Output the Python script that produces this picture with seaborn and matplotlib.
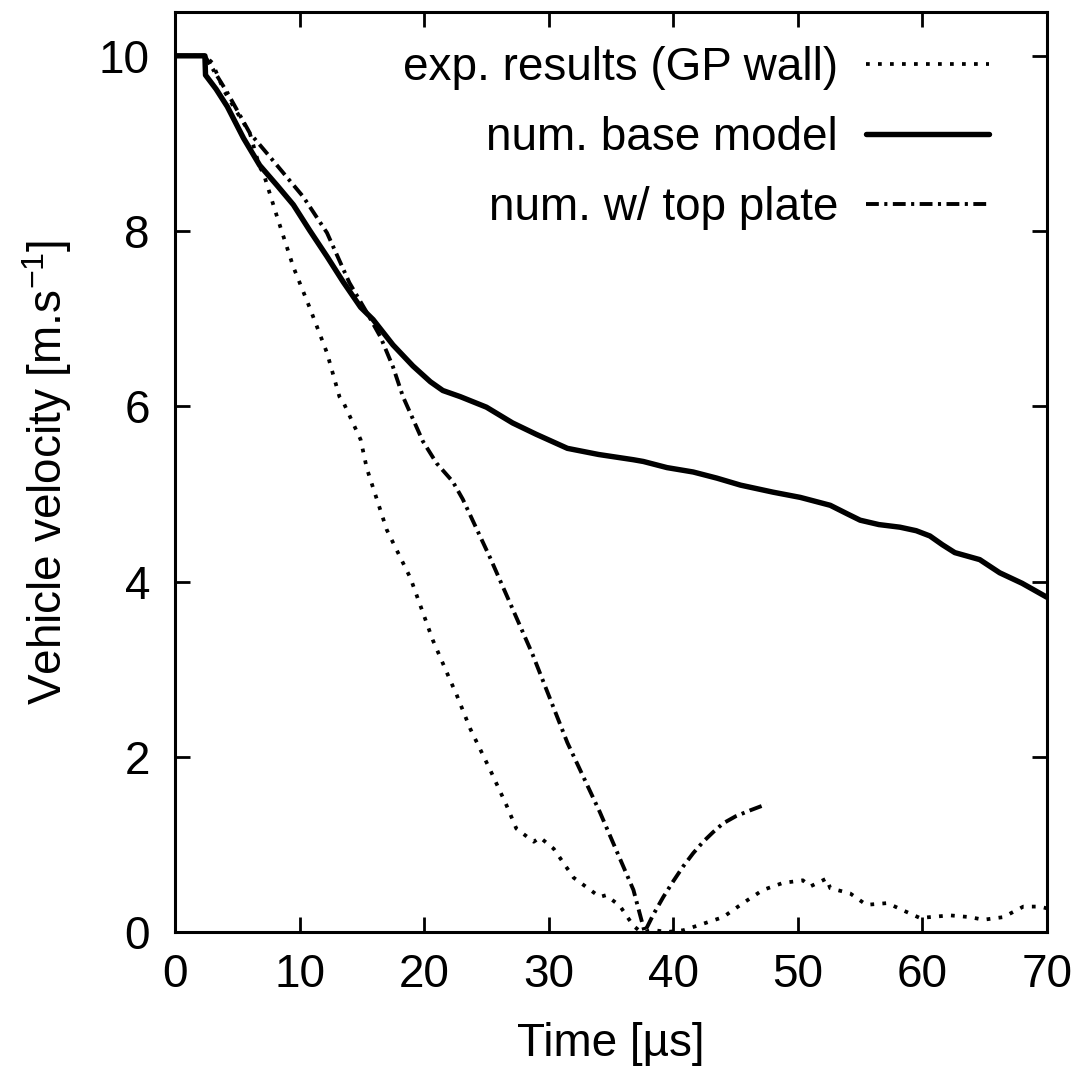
import numpy as np
import pandas as pd
import matplotlib
matplotlib.use("Agg")
import matplotlib.pyplot as plt
import seaborn as sns

# ---- data ----
exp_t = [0, 2.4, 3.0, 3.9, 5.0, 6.0, 6.8, 7.1, 8.2, 9.5, 10.8, 12.2, 13.2, 13.5, 14.9, 15.4,
         17.0, 18.9, 20.7, 22.1, 22.6, 23.7, 25.3, 26.6, 27.4, 28.8, 29.3, 30.4, 32.0, 34.1,
         34.6, 35.7, 36.8, 37.4, 38.5, 39.5, 40.8, 42.1, 44.0, 45.6, 47.2, 48.8, 50.4, 51.0,
         52.3, 52.6, 54.2, 55.5, 57.2, 58.4, 59.8, 62.2, 63.8, 64.9, 66.5, 68.1, 69.4, 70.0]
exp_v = [10.0, 10.0, 9.92, 9.61, 9.35, 9.12, 8.73, 8.66, 8.16, 7.59, 7.13, 6.61, 6.11, 6.05, 5.62, 5.29,
         4.59, 4.04, 3.33, 2.87, 2.71, 2.32, 1.85, 1.45, 1.18, 1.03, 1.08, 0.95, 0.62, 0.40,
         0.42, 0.30, 0.07, 0.0, 0.02, 0.0, 0.02, 0.08, 0.17, 0.33, 0.48, 0.56, 0.59, 0.52,
         0.61, 0.50, 0.44, 0.31, 0.33, 0.25, 0.16, 0.19, 0.17, 0.14, 0.17, 0.29, 0.29, 0.27]

base_t = [0, 2.4, 2.45, 3.3, 4.2, 5.5, 6.8, 8.2, 9.5, 10.8, 12.2, 13.5, 14.9, 15.9, 17.5, 19.1,
          20.5, 21.5, 22.9, 25.0, 27.1, 29.0, 31.5, 34.0, 36.8, 37.6, 39.5, 41.6, 43.5, 45.4,
          48.0, 50.2, 52.6, 54.0, 55.0, 56.5, 58.2, 59.5, 60.6, 61.6, 62.6, 64.6, 66.2, 68.0, 70.0]
base_v = [10.0, 10.0, 9.78, 9.62, 9.42, 9.06, 8.75, 8.52, 8.30, 8.01, 7.71, 7.42, 7.13, 6.99, 6.70, 6.46,
          6.28, 6.18, 6.11, 5.99, 5.81, 5.68, 5.52, 5.45, 5.39, 5.37, 5.30, 5.25, 5.18, 5.10,
          5.02, 4.96, 4.87, 4.77, 4.70, 4.65, 4.62, 4.58, 4.52, 4.42, 4.33, 4.25, 4.10, 3.98, 3.82]

top_t = [0, 2.4, 2.6, 4.2, 6.0, 7.6, 10.3, 12.2, 14.0, 15.4, 16.5, 17.5, 18.3, 19.9, 21.0, 22.3,
         23.1, 25.3, 28.7, 31.5, 34.1, 36.8, 37.7, 38.4, 39.2, 40.0, 40.8, 41.6, 42.4, 43.2, 44.0,
         45.0, 46.2, 47.5]
top_v = [10.0, 10.0, 9.95, 9.58, 9.12, 8.85, 8.39, 7.98, 7.41, 7.07, 6.79, 6.45, 6.11, 5.60, 5.35, 5.14,
         4.94, 4.27, 3.17, 2.16, 1.37, 0.48, 0.0, 0.20, 0.40, 0.58, 0.75, 0.90, 1.03, 1.14, 1.24,
         1.32, 1.39, 1.46]

labels = ["exp. results (GP wall)", "num. base model", "num. w/ top plate"]
x_ticks = [0, 10, 20, 30, 40, 50, 60, 70]
y_ticks = [0, 2, 4, 6, 8, 10]

sns.set_theme(style="ticks")
plt.rcParams["font.family"] = ["Liberation Sans", "DejaVu Sans"]
plt.rcParams["mathtext.fontset"] = "custom"
plt.rcParams["mathtext.rm"] = "Liberation Sans"
plt.rcParams["mathtext.it"] = "Liberation Sans"
plt.rcParams["text.color"] = "black"
plt.rcParams["axes.labelcolor"] = "black"
plt.rcParams["xtick.color"] = "black"
plt.rcParams["ytick.color"] = "black"

fig = plt.figure(figsize=(10.81, 10.82), dpi=100)
ax = fig.add_axes([175 / 1081, 1 - 932 / 1082, (1047 - 175) / 1081, (932 - 12) / 1082])

df_exp = pd.DataFrame({"t": exp_t, "v": exp_v})
df_base = pd.DataFrame({"t": base_t, "v": base_v})
df_top = pd.DataFrame({"t": top_t, "v": top_v})

sns.lineplot(data=df_exp, x="t", y="v", ax=ax, color="black", lw=2.7,
             dashes=(1.0, 2.2), estimator=None, sort=False, label=labels[0])
sns.lineplot(data=df_base, x="t", y="v", ax=ax, color="black", lw=3.9,
             estimator=None, sort=False, label=labels[1])
sns.lineplot(data=df_top, x="t", y="v", ax=ax, color="black", lw=2.8,
             dashes=(3.3, 1.4, 0.8, 1.4), estimator=None, sort=False, label=labels[2])

ax.set_xlim(0, 70)
ax.set_ylim(0, 10.5)
ax.set_xticks(x_ticks)
ax.set_yticks(y_ticks)
ax.tick_params(direction="in", top=True, right=True, length=11, width=2,
               labelsize=33, colors="black")
ax.tick_params(axis="x", pad=15)
ax.tick_params(axis="y", pad=18)
for s in ax.spines.values():
    s.set_linewidth(2.2)
    s.set_color("black")

ax.set_xlabel("Time [µs]", fontsize=33, labelpad=18, color="black")
ax.set_ylabel("Vehicle velocity [m.s$^{-1}$]", fontsize=33, labelpad=18, color="black")

leg = ax.legend(loc="upper right", frameon=False, markerfirst=False, fontsize=33,
                handlelength=2.7, handletextpad=0.6, labelspacing=0.57,
                borderaxespad=0.0, bbox_to_anchor=(0.955, 0.983))
for t in leg.get_texts():
    t.set_color("black")

fig.savefig("out.png", dpi=100, facecolor="white")
